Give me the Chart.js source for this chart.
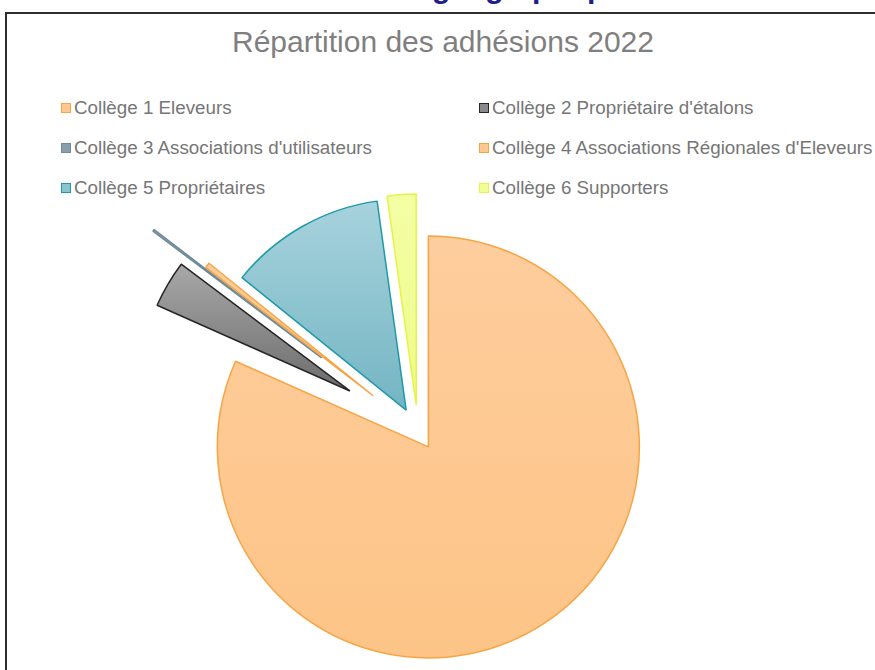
<!DOCTYPE html>
<html>
<head>
<meta charset="utf-8">
<script src="https://cdn.jsdelivr.net/npm/chart.js@4"></script>
<style>
  html, body { margin: 0; padding: 0; background: #ffffff; overflow: hidden; }
  #wrap { position: relative; width: 875px; height: 670px; overflow: hidden; font-family: "Liberation Sans", Arial, sans-serif; }
  #frame { position: absolute; left: 5px; top: 12px; width: 900px; height: 700px; border-left: 2px solid #2e2e2e; border-top: 2px solid #2e2e2e; box-sizing: border-box; }
  #heading { position: absolute; left: 0; top: 0; width: 875px; height: 10px; overflow: hidden; }
  #heading span { position: absolute; left: 432px; top: -27px; font: bold 30px/30px "Liberation Sans", Arial, sans-serif; color: #1c2088; white-space: nowrap; }
  #title { position: absolute; left: 0; width: 886px; top: 24px; line-height: 36px; text-align: center; font-size: 30px; color: #7f7f7f; white-space: nowrap; }
  #legend { position: absolute; left: 0; top: 0; }
  .item { position: absolute; height: 24px; line-height: 24px; font-size: 18.8px; color: #767676; white-space: nowrap; }
  .item i { position: absolute; left: 0; top: 7px; width: 10px; height: 10px; box-sizing: border-box; border: 1px solid; }
  .item span { position: absolute; left: 13px; top: 0; }
  canvas { position: absolute; left: 0; top: 0; }
</style>
</head>
<body>
<div id="wrap">
  <div id="heading"><span>géographique</span></div>
  <div id="frame"></div>
  <div id="title">Répartition des adhésions 2022</div>
  <div id="legend"></div>
  <canvas id="c" width="875" height="670"></canvas>
</div>
<script>
// ---- data ----
const chartTitle = "Répartition des adhésions 2022";
const categories = [
  "Collège 1 Eleveurs",
  "Collège 2 Propriétaire d'étalons",
  "Collège 3 Associations d'utilisateurs",
  "Collège 4 Associations Régionales d'Eleveurs",
  "Collège 5 Propriétaires",
  "Collège 6 Supporters"
];
const shares = [81.7, 3.6, 0.15, 0.4, 12.0, 2.2];

// ---- styles ----
const fillTop    = ["#fecd9d", "#a8a8a8", "#8fa7b3", "#fecd9d", "#a7d3dd", "#f4fea4"];
const fillBottom = ["#fdc486", "#6c6c6c", "#7893a0", "#fdc486", "#74b5c3", "#eefb8c"];
const borderCols = ["#f7a544", "#262626", "#6f8a98", "#f7a544", "#1f9aa8", "#e6f444"];
const legendFill = ["#fec892", "#8a8a8a", "#8a9fab", "#fec892", "#8cc3cf", "#f1fd97"];
const explodePx  = [19, 79, 121, 57, 24, 26];
const gradY      = [[237, 660], [265, 392], [233, 358], [263, 397], [200, 410], [195, 405]];
const legendPos  = [[61, 96], [479, 96], [61, 136], [479, 136], [61, 176], [479, 176]];

document.getElementById('title').textContent = chartTitle;

// HTML legend built from the category list
const leg = document.getElementById('legend');
categories.forEach((name, i) => {
  const d = document.createElement('div');
  d.className = 'item';
  d.style.left = legendPos[i][0] + 'px';
  d.style.top = legendPos[i][1] + 'px';
  const box = document.createElement('i');
  box.style.background = legendFill[i];
  box.style.borderColor = borderCols[i];
  const t = document.createElement('span');
  t.textContent = name;
  d.appendChild(box); d.appendChild(t);
  leg.appendChild(d);
});

// explode slices along their mid-angle (pixel distances)
const explodePlugin = {
  id: 'explode',
  beforeDatasetsDraw(chart) {
    const a = chart.chartArea;
    const cx = (a.left + a.right) / 2, cy = (a.top + a.bottom) / 2;
    chart.getDatasetMeta(0).data.forEach((arc, i) => {
      const h = (arc.startAngle + arc.endAngle) / 2;
      const d = explodePx[i] || 0;
      arc.x = cx + Math.cos(h) * d;
      arc.y = cy + Math.sin(h) * d;
    });
  }
};

new Chart(document.getElementById('c'), {
  type: 'pie',
  data: {
    labels: categories,
    datasets: [{
      data: shares,
      radius: 211,
      borderWidth: 1.5,
      borderColor: borderCols,
      backgroundColor: (ctx) => {
        const i = ctx.dataIndex;
        if (i === undefined) return fillTop[0];
        const g = ctx.chart.ctx.createLinearGradient(0, gradY[i][0], 0, gradY[i][1]);
        g.addColorStop(0, fillTop[i]);
        g.addColorStop(1, fillBottom[i]);
        return g;
      }
    }]
  },
  options: {
    responsive: false,
    devicePixelRatio: 1,
    animation: false,
    events: [],
    layout: { padding: { left: 0, right: 39, top: 192, bottom: 0 } },
    plugins: {
      legend: { display: false },
      title: { display: false },
      tooltip: { enabled: false }
    }
  },
  plugins: [explodePlugin]
});
</script>
</body>
</html>
